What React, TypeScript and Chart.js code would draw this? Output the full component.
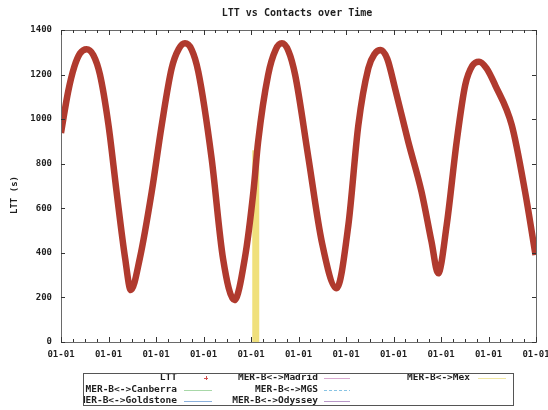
import { useEffect, useRef } from "react";
import { Chart, registerables } from "chart.js";

Chart.register(...registerables);

const TITLE = "LTT vs Contacts over Time";
const Y_TITLE = "LTT (s)";

const xTickValues = [0, 1, 2, 3, 4, 5, 6, 7, 8, 9, 10];
const xTickLabels = ["01-01", "01-01", "01-01", "01-01", "01-01", "01-01", "01-01", "01-01", "01-01", "01-01", "01-01"];
const yTickValues = [0, 200, 400, 600, 800, 1000, 1200, 1400];
const yTickLabels = ["0", "200", "400", "600", "800", "1000", "1200", "1400"];

const timeValues = [
  0, 0.15, 0.28, 0.4, 0.54, 0.68, 0.82, 1.0, 1.17, 1.35, 1.47, 1.66, 1.91, 2.12, 2.33, 2.48, 2.61, 2.75,
  2.89, 3.17, 3.41, 3.65, 3.87, 4.05, 4.15, 4.36, 4.52, 4.65, 4.79, 4.93, 5.21, 5.49, 5.8, 6.05, 6.26,
  6.47, 6.6, 6.73, 6.87, 7.03, 7.31, 7.59, 7.8, 7.94, 8.12, 8.33, 8.51, 8.66, 8.8, 8.96, 9.14, 9.49,
  9.77, 9.99,
];
const lttValues = [
  938, 1123, 1235, 1295, 1314, 1288, 1200, 973, 674, 376, 233, 376, 674, 973, 1228, 1315, 1340, 1312,
  1213, 825, 376, 188, 376, 674, 899, 1198, 1312, 1340, 1305, 1198, 825, 450, 241, 525, 973,
  1228, 1292, 1310, 1270, 1140, 899, 674, 450, 308, 525, 899, 1153, 1240, 1258, 1228, 1153, 973,
  674, 390,
];

const mexTime = [4.1, 4.1];
const mexValues = [0, 860];

const legendLabels = [
  "LTT",
  "MER-B<->Canberra",
  "MER-B<->Goldstone",
  "MER-B<->Madrid",
  "MER-B<->MGS",
  "MER-B<->Odyssey",
  "MER-B<->Mex",
];
const legendColors = ["#d05050", "#a8d8a8", "#8ab0dc", "#d8a8d0", "#88c4e4", "#b898c8", "#f0e6a0"];

const LTT_COLOR = "#b03a2e";
const MEX_COLOR = "#f0e07c";
const FONT = "bold 9px 'DejaVu Sans Mono'";
const LEGEND_FONT = "bold 9.5px 'DejaVu Sans Mono'";
const TITLE_FONT = "bold 10px 'DejaVu Sans Mono'";
const TEXT_COLOR = "#1e1e1e";

const decorPlugin = {
  id: "gnuplotDecor",
  afterDraw(chart: any) {
    const ctx = chart.ctx as CanvasRenderingContext2D;
    const { left, right, top, bottom } = chart.chartArea;
    const xs = chart.scales.x;
    const ys = chart.scales.y;
    ctx.save();

    // frame
    ctx.strokeStyle = "#6a6a6a";
    ctx.lineWidth = 1;
    ctx.strokeRect(Math.round(left) + 0.5, Math.round(top) + 0.5, Math.round(right - left), Math.round(bottom - top));

    // x ticks (major + minor), mirrored
    ctx.strokeStyle = "#333";
    ctx.beginPath();
    const xMin = xTickValues[0];
    const xMax = xTickValues[xTickValues.length - 1];
    for (let i = 0; i <= (xMax - xMin) * 4; i++) {
      const v = xMin + i * 0.25;
      const px = Math.round(xs.getPixelForValue(v)) + 0.5;
      const len = i % 4 === 0 ? 5 : 3;
      ctx.moveTo(px, bottom);
      ctx.lineTo(px, bottom - len);
      ctx.moveTo(px, top);
      ctx.lineTo(px, top + len);
    }
    yTickValues.forEach((v) => {
      const py = Math.round(ys.getPixelForValue(v)) + 0.5;
      ctx.moveTo(left, py);
      ctx.lineTo(left + 4, py);
      ctx.moveTo(right, py);
      ctx.lineTo(right - 4, py);
    });
    ctx.stroke();

    // tick labels
    ctx.fillStyle = TEXT_COLOR;
    ctx.font = FONT;
    ctx.textAlign = "center";
    ctx.textBaseline = "middle";
    xTickValues.forEach((v, i) => {
      ctx.fillText(xTickLabels[i], xs.getPixelForValue(v), bottom + 13);
    });
    ctx.textAlign = "right";
    yTickValues.forEach((v, i) => {
      ctx.fillText(yTickLabels[i], left - 9, ys.getPixelForValue(v));
    });

    // title
    ctx.font = TITLE_FONT;
    ctx.textAlign = "center";
    ctx.fillText(TITLE, 297, 13);

    // y title
    ctx.font = FONT;
    ctx.save();
    ctx.translate(15, 195);
    ctx.rotate(-Math.PI / 2);
    ctx.fillText(Y_TITLE, 0, 0);
    ctx.restore();

    // legend
    const boxL = 83, boxT = 373, boxR = 513, boxB = 405;
    const colTextRight = [177, 318, 470];
    const colSample = [[184, 212], [324, 350], [478, 506]];
    const rowY = [378, 390, 401];
    ctx.save();
    ctx.beginPath();
    ctx.rect(boxL + 1, boxT + 1, boxR - boxL - 1, boxB - boxT - 1);
    ctx.clip();
    ctx.font = LEGEND_FONT;
    legendLabels.forEach((label, i) => {
      const col = Math.floor(i / 3);
      const row = i % 3;
      const y = rowY[row];
      ctx.fillStyle = TEXT_COLOR;
      ctx.textAlign = "right";
      ctx.fillText(label, colTextRight[col], y);
      const [sx0, sx1] = colSample[col];
      ctx.strokeStyle = legendColors[i];
      ctx.lineWidth = 1;
      ctx.beginPath();
      if (i === 0) {
        const cx = (sx0 + sx1) / 2 + 8;
        ctx.moveTo(cx - 2, y + 0.5);
        ctx.lineTo(cx + 2, y + 0.5);
        ctx.moveTo(cx + 0.5, y - 2);
        ctx.lineTo(cx + 0.5, y + 2);
      } else {
        if (label.endsWith("MGS")) ctx.setLineDash([3, 2]);
        ctx.moveTo(sx0, y + 0.5);
        ctx.lineTo(sx1, y + 0.5);
      }
      ctx.stroke();
      ctx.setLineDash([]);
    });
    ctx.restore();
    ctx.strokeStyle = "#555";
    ctx.strokeRect(boxL + 0.5, boxT + 0.5, boxR - boxL, boxB - boxT);

    ctx.restore();
  },
};

export default function App() {
  const ref = useRef<HTMLCanvasElement | null>(null);
  useEffect(() => {
    if (!ref.current) return;
    const chart = new Chart(ref.current, {
      type: "line",
      data: {
        datasets: [
          {
            label: legendLabels[0],
            data: timeValues.map((t, i) => ({ x: t, y: lttValues[i] })),
            borderColor: LTT_COLOR,
            borderWidth: 6.5,
            pointRadius: 0,
            cubicInterpolationMode: "monotone",
            fill: false,
          },
          {
            label: legendLabels[6],
            data: mexTime.map((t, i) => ({ x: t, y: mexValues[i] })),
            borderColor: MEX_COLOR,
            borderWidth: 7,
            pointRadius: 0,
            fill: false,
          },
        ],
      },
      options: {
        responsive: false,
        animation: false,
        layout: { padding: { left: 61, right: 12, top: 30, bottom: 68 } },
        plugins: { legend: { display: false }, tooltip: { enabled: false }, title: { display: false } },
        scales: {
          x: { type: "linear", min: 0, max: 10, display: false },
          y: { type: "linear", min: 0, max: 1400, display: false },
        },
      },
      plugins: [decorPlugin],
    });
    return () => chart.destroy();
  }, []);
  return (
    <div style={{ position: "absolute", left: 0, top: 0, width: 548, height: 410, background: "#fff" }}>
      <canvas ref={ref} width={548} height={410} />
    </div>
  );
}
